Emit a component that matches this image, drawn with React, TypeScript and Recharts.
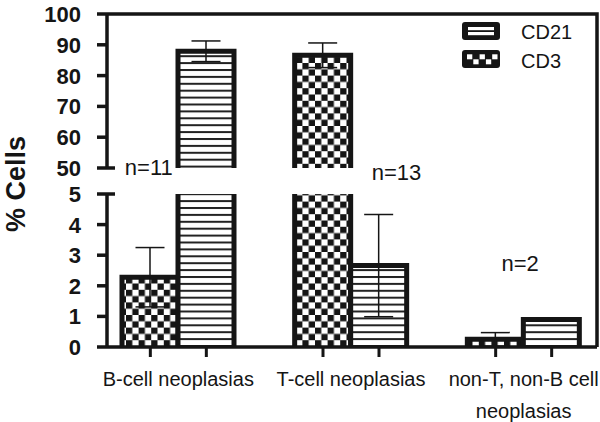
import React from 'react';
import { BarChart, Bar, XAxis, YAxis, ErrorBar, Legend, ReferenceDot, Text } from 'recharts';

const categories = ['B-cell neoplasias', 'T-cell neoplasias', 'non-T, non-B cell neoplasias'];
const cd3Values = [2.28, 86.6, 0.25];
const cd3Errors = [0.97, 4.0, 0.22];
const cd21Values = [87.9, 2.66, 0.9];
const cd21Errors = [3.35, 1.67, 0.04];
const groupLabels = ['n=11', 'n=13', 'n=2'];
const upperTicks = [50, 60, 70, 80, 90, 100];
const lowerTicks = [0, 1, 2, 3, 4, 5];
const legendOrder = ['cd21', 'cd3'];

const data = categories.map((name, i) => ({
  name,
  cd3: cd3Values[i],
  cd3Err: cd3Errors[i],
  cd21: cd21Values[i],
  cd21Err: cd21Errors[i],
}));

// layout of the broken axis
const FONT = '"Liberation Sans", Arial, Helvetica, sans-serif';
const INK = '#151515';
const BAR = 56;
const AXIS_W = 60;
const MARGIN_LEFT = 47; // axis line at 107
const MARGIN_RIGHT = 3; // frame at 597
const X_PADDING = { left: -15, right: -13 };
// where the n= labels sit (lower-axis units, shift in px from the group centre)
const nLabelPos = [
  { y: 5.88, dx: -29.5 },
  { y: 5.72, dx: 45.5 },
  { y: 2.75, dx: -3.5 },
];

function Patterns({ suffix }: { suffix: string }) {
  return (
    <defs>
      <pattern id={`stripes-${suffix}`} patternUnits="userSpaceOnUse" width={10} height={6.9}>
        <rect width={10} height={6.9} fill="#fff" />
        <rect width={10} height={2} fill="#222" />
      </pattern>
      <pattern id={`checker-${suffix}`} patternUnits="userSpaceOnUse" width={12.6} height={12.6}>
        <rect width={12.6} height={12.6} fill="#fff" />
        <rect width={6.3} height={6.3} fill={INK} />
        <rect x={6.3} y={6.3} width={6.3} height={6.3} fill={INK} />
      </pattern>
    </defs>
  );
}

// bar with an outline on the top and the sides only
const OpenBar = (props: any) => {
  const { x, y, width, height, fill } = props;
  if (!(height > 0)) return null;
  return (
    <g>
      <rect x={x} y={y} width={width} height={height} fill={fill} />
      <path
        d={`M${x},${y + height} L${x},${y} L${x + width},${y} L${x + width},${y + height}`}
        fill="none"
        stroke={INK}
        strokeWidth={5}
      />
    </g>
  );
};

const YTick = (props: any) => {
  const { x, y, payload, breakValue } = props;
  const crosses = payload.value === breakValue;
  return (
    <g>
      <line x1={x - 10} y1={y} x2={crosses ? x + 8 : x} y2={y} stroke={INK} strokeWidth={3.5} />
      <text
        x={x - 26}
        y={y}
        dy={8}
        textAnchor="end"
        fontSize={22}
        fontWeight="bold"
        fontFamily={FONT}
        fill={INK}
      >
        {payload.value}
      </text>
    </g>
  );
};

const XTick = (props: any) => {
  const { x, y, payload } = props;
  return (
    <g>
      <line x1={x - BAR / 2} y1={y} x2={x - BAR / 2} y2={y + 10} stroke={INK} strokeWidth={3} />
      <line x1={x + BAR / 2} y1={y} x2={x + BAR / 2} y2={y + 10} stroke={INK} strokeWidth={3} />
      <Text
        x={x}
        y={y + 25}
        width={170}
        textAnchor="middle"
        verticalAnchor="start"
        lineHeight={32}
        fontSize={20}
        fontFamily={FONT}
        style={{ fontSize: 20, fontFamily: FONT }}
        fill={INK}
      >
        {payload.value}
      </Text>
    </g>
  );
};

const CellsLabel = () => (
  <text
    x={16}
    y={184}
    transform="rotate(-90 16 184)"
    textAnchor="middle"
    dominantBaseline="central"
    fontSize={27}
    fontWeight="bold"
    fontFamily={FONT}
    fill={INK}
  >
    % Cells
  </text>
);

const NLabel = (props: any) => {
  const { viewBox, text, shiftX } = props;
  const cx = viewBox.x + (viewBox.width || 0) / 2 + shiftX;
  const cy = viewBox.y + (viewBox.height || 0) / 2;
  return (
    <text x={cx} y={cy} dy={8} textAnchor="middle" fontSize={22} fontFamily={FONT} fill={INK}>
      {text}
    </text>
  );
};

const LegendIcon = ({ kind, y }: { kind: string; y: number }) => {
  if (kind === 'cd21') {
    return (
      <g>
        <rect x={2} y={y} width={38} height={18} rx={3} fill={INK} />
        <rect x={8} y={y + 5} width={26} height={3.2} fill="#fff" />
        <rect x={8} y={y + 10} width={26} height={3.2} fill="#fff" />
      </g>
    );
  }
  return (
    <g>
      <rect x={2} y={y} width={38} height={18} rx={3} fill={INK} />
      {[0, 1, 2, 3, 4].map((i) => (
        <rect key={i} x={7 + i * 6.3} y={y + (i % 2 === 0 ? 4.3 : 9.3)} width={5.3} height={5} fill="#fff" />
      ))}
    </g>
  );
};

const LegendContent = (props: any) => {
  const items = [...(props.payload || [])].sort(
    (a: any, b: any) => legendOrder.indexOf(a.dataKey) - legendOrder.indexOf(b.dataKey)
  );
  return (
    <svg width={140} height={52}>
      {items.map((item: any, i: number) => (
        <g key={item.value}>
          <LegendIcon kind={item.dataKey} y={2 + i * 28} />
          <text x={61} y={19 + i * 29} fontSize={20} fontFamily={FONT} fill={INK}>
            {item.value}
          </text>
        </g>
      ))}
    </svg>
  );
};

export default function App() {
  return (
    <div style={{ position: 'absolute', left: 0, top: 0, width: 600, height: 422, background: '#fff', fontFamily: FONT }}>
      {/* upper segment, 50-100 */}
      <div style={{ position: 'absolute', left: 0, top: 0, width: 600, height: 182, overflow: 'hidden' }}>
        <BarChart
          width={600}
          height={182}
          data={data}
          barSize={BAR}
          barGap={0}
          margin={{ top: 14, right: MARGIN_RIGHT, bottom: 14, left: MARGIN_LEFT }}
        >
          <Patterns suffix="u" />
          <XAxis dataKey="name" hide padding={X_PADDING} />
          <YAxis
            width={AXIS_W}
            domain={[50, 100]}
            ticks={upperTicks}
            interval={0}
            allowDataOverflow
            tickSize={0}
            tickMargin={0}
            tickLine={false}
            axisLine={{ stroke: INK, strokeWidth: 3.5 }}
            tick={<YTick breakValue={50} />}
          />
          <Bar dataKey="cd3" name="CD3" fill="url(#checker-u)" shape={OpenBar} isAnimationActive={false}>
            <ErrorBar dataKey="cd3Err" width={14.5} stroke={INK} strokeWidth={1.5} isAnimationActive={false} />
          </Bar>
          <Bar dataKey="cd21" name="CD21" fill="url(#stripes-u)" shape={OpenBar} isAnimationActive={false}>
            <ErrorBar dataKey="cd21Err" width={14.5} stroke={INK} strokeWidth={1.5} isAnimationActive={false} />
          </Bar>
        </BarChart>
      </div>

      {/* lower segment, 0-5 */}
      <div style={{ position: 'absolute', left: 0, top: 0, width: 600, height: 422 }}>
        <BarChart
          width={600}
          height={422}
          data={data}
          barSize={BAR}
          barGap={0}
          margin={{ top: 194, right: MARGIN_RIGHT, bottom: 15, left: MARGIN_LEFT }}
        >
          <Patterns suffix="l" />
          <XAxis
            dataKey="name"
            height={60}
            padding={X_PADDING}
            interval={0}
            tickSize={0}
            tickMargin={0}
            tickLine={false}
            axisLine={{ stroke: INK, strokeWidth: 3.5 }}
            tick={<XTick />}
          />
          <YAxis
            width={AXIS_W}
            domain={[0, 5]}
            ticks={lowerTicks}
            interval={0}
            allowDataOverflow
            tickSize={0}
            tickMargin={0}
            tickLine={false}
            axisLine={{ stroke: INK, strokeWidth: 3.5 }}
            tick={<YTick breakValue={5} />}
            label={<CellsLabel />}
          />
          <Legend
            layout="vertical"
            align="center"
            verticalAlign="middle"
            wrapperStyle={{ left: 460, top: 20, width: 140 }}
            content={<LegendContent />}
          />
          <Bar dataKey="cd3" name="CD3" fill="url(#checker-l)" shape={OpenBar} isAnimationActive={false}>
            <ErrorBar dataKey="cd3Err" width={14.5} stroke={INK} strokeWidth={1.5} isAnimationActive={false} />
          </Bar>
          <Bar dataKey="cd21" name="CD21" fill="url(#stripes-l)" shape={OpenBar} isAnimationActive={false}>
            <ErrorBar dataKey="cd21Err" width={14.5} stroke={INK} strokeWidth={1.5} isAnimationActive={false} />
          </Bar>
          {categories.map((c, i) => (
            <ReferenceDot
              key={c}
              x={c}
              y={nLabelPos[i].y}
              r={0}
              fill="none"
              stroke="none"
              ifOverflow="visible"
              label={<NLabel text={groupLabels[i]} shiftX={nLabelPos[i].dx} />}
            />
          ))}
        </BarChart>
      </div>

      {/* top and right frame, continuous across the break */}
      <svg width={600} height={422} style={{ position: 'absolute', left: 0, top: 0, pointerEvents: 'none' }}>
        <path d="M107,14 H597 V347" fill="none" stroke={INK} strokeWidth={3.5} />
      </svg>
    </div>
  );
}
